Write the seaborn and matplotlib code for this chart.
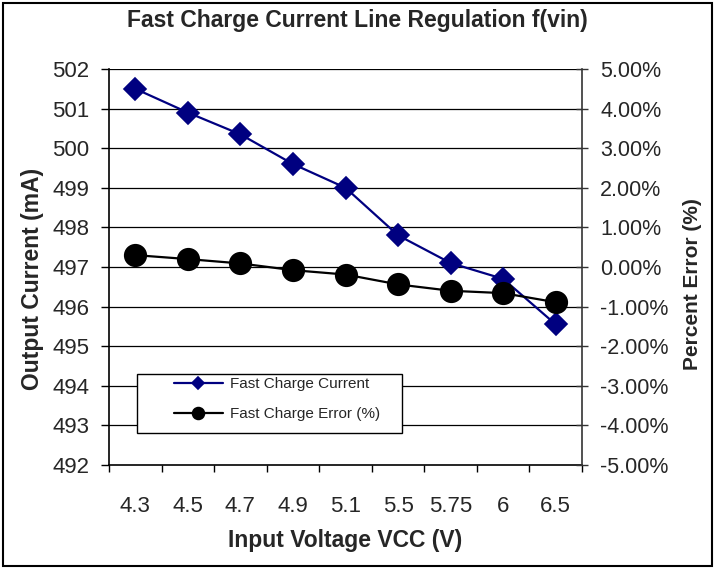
import matplotlib
matplotlib.use("Agg")
import matplotlib.pyplot as plt
import matplotlib.patches as patches
from matplotlib.ticker import FuncFormatter, MultipleLocator, FixedLocator
import seaborn as sns

# data
vcc = ["4.3", "4.5", "4.7", "4.9", "5.1", "5.5", "5.75", "6", "6.5"]
current_ma = [501.5, 500.9, 500.35, 499.6, 499.0, 497.8, 497.1, 496.7, 495.55]
error_pct = [0.3, 0.2, 0.09, -0.08, -0.19, -0.44, -0.6, -0.66, -0.89]

sns.set_theme(style="white")
plt.rcParams["font.family"] = ["Liberation Sans", "DejaVu Sans"]

W, H = 714, 568
fig = plt.figure(figsize=(W / 100, H / 100), dpi=100)
ax = fig.add_axes([109 / W, 1 - 465 / H, (582 - 109) / W, (465 - 69) / H])
ax2 = ax.twinx()

navy = "#000080"
sns.pointplot(x=vcc, y=current_ma, ax=ax, color=navy, marker="D",
              markersize=11, linewidth=1.6, errorbar=None,
              label="Fast Charge Current")
sns.pointplot(x=vcc, y=error_pct, ax=ax2, color="black", marker="o",
              markersize=15.5, linewidth=1.6, errorbar=None,
              label="Fast Charge Error (%)")

ax.set_xlim(-0.5, len(vcc) - 0.5)
ax.set_ylim(492, 502)
ax2.set_ylim(-5, 5)
ax.yaxis.set_major_locator(MultipleLocator(1))
ax2.yaxis.set_major_locator(MultipleLocator(1))
ax2.yaxis.set_major_formatter(FuncFormatter(lambda v, p: f"{v:.2f}%"))

# gridlines on the left axis
ax.grid(False)
ax2.grid(False)
for v in range(493, 503):
    ax.axhline(v, color="black", lw=0.9, zorder=0)

# category ticks between the categories, excel style
ax.xaxis.set_minor_locator(FixedLocator([i - 0.5 for i in range(len(vcc) + 1)]))
ax.tick_params(axis="x", which="major", length=0, pad=22, labelsize=16)
ax.tick_params(axis="x", which="minor", length=5, width=1, color="black",
               direction="out", bottom=True)
ax.tick_params(axis="y", length=6, width=1, color="black", direction="out",
               pad=8, labelsize=16, left=True)
ax2.tick_params(axis="y", length=8, width=1, color="#333333", direction="inout",
                pad=9, labelsize=15.5, right=True)

for a in (ax, ax2):
    for s in a.spines.values():
        s.set_visible(False)
ax.spines["left"].set_visible(True)
ax.spines["left"].set_color("black")
ax.spines["bottom"].set_visible(True)
ax.spines["bottom"].set_color("black")
ax2.spines["right"].set_visible(True)
ax2.spines["right"].set_color("#333333")
for s in ("left", "bottom"):
    ax.spines[s].set_linewidth(1.2)
ax2.spines["right"].set_linewidth(1.2)

ax.set_xlabel("")
ax.set_ylabel("")
ax2.set_ylabel("")
fig.text(33 / W, 1 - 279 / H, "Output Current (mA)", rotation=90,
         ha="center", va="center", fontsize=16.5, fontweight="bold")
fig.text(693 / W, 1 - 284 / H, "Percent Error (%)", rotation=90,
         ha="center", va="center", fontsize=15, fontweight="bold")
fig.text(345 / W, 1 - 541 / H, "Input Voltage VCC (V)",
         ha="center", va="center", fontsize=16.5, fontweight="bold")
fig.text(357 / W, 1 - 21 / H, "Fast Charge Current Line Regulation f(vin)",
         ha="center", va="center", fontsize=16.5, fontweight="bold")

# legend: frameless entries inside a hand placed box
for a in (ax, ax2):
    if a.get_legend() is not None:
        a.get_legend().remove()
h1, l1 = ax.get_legend_handles_labels()
h2, l2 = ax2.get_legend_handles_labels()
leg = ax2.legend(h1 + h2, l1 + l2, loc="upper left",
                 bbox_to_anchor=(174 / W, 1 - 377 / H),
                 bbox_transform=fig.transFigure, frameon=False, fontsize=11,
                 markerscale=0.55, handlelength=3.2, borderpad=0,
                 labelspacing=1.05, handletextpad=0.45, borderaxespad=0)
ax2.add_patch(patches.Rectangle((137 / W, 1 - 433 / H), (402 - 137) / W,
                                (433 - 374) / H, transform=fig.transFigure,
                                facecolor="white", edgecolor="black", lw=1,
                                zorder=4, clip_on=False))
leg.set_zorder(5)

# outer chart border
fig.patches.append(patches.Rectangle((2.5 / W, 2.5 / H), 1 - 5 / W, 1 - 5 / H,
                                     transform=fig.transFigure, fill=False,
                                     edgecolor="black", lw=1.5))

fig.savefig("out.png", dpi=100)
